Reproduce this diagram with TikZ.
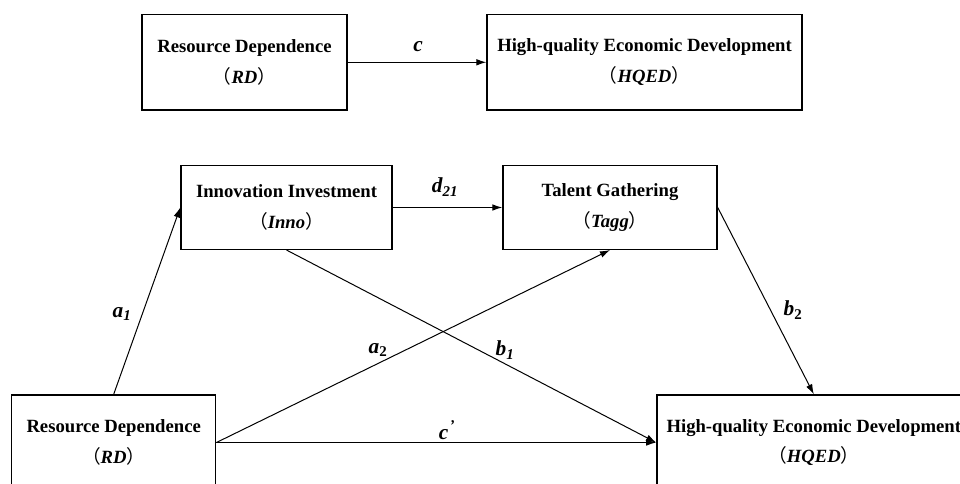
\documentclass[tikz,border=0pt]{standalone}
\usepackage{fontspec}
\setmainfont{Liberation Serif}
\newfontfamily\cjkfont{Noto Sans CJK SC}
\usetikzlibrary{arrows.meta}
\newcommand{\fparen}[1]{{\cjkfont\mdseries （}\textit{#1}{\cjkfont\mdseries ）}}
\begin{document}
\begin{tikzpicture}[x=0.75pt,y=-0.75pt,
  box/.style={draw, line width=1.1pt, rectangle, align=center, inner sep=0pt,
    font=\fontsize{14}{23}\selectfont\bfseries},
  conn/.style={line width=0.75pt, -{Latex[length=7.5pt,width=5pt]}},
  lbl/.style={font=\fontsize{16}{18}\selectfont\bfseries\itshape, inner sep=0pt}]
\useasboundingbox (0,0) rectangle (960,484);
\clip (0,0) rectangle (960,484);
% top model
\node[box, minimum width=153.75pt, minimum height=71.5pt] (rd1) at (244.5,62.3)
  {Resource Dependence\\\fparen{RD}};
\node[box, minimum width=236.25pt, minimum height=71.5pt] (hq1) at (644.5,62.3)
  {High-quality Economic Development\\\fparen{HQED}};
% mediation model
\node[box, minimum width=158.25pt, minimum height=62.7pt] (inno) at (286.5,207.5)
  {Innovation Investment\\\fparen{Inno}};
\node[box, minimum width=160.5pt, minimum height=62.7pt] (tagg) at (610,207.5)
  {Talent Gathering\\\fparen{Tagg}};
\node[box, minimum width=153pt, minimum height=71.25pt] (rd2) at (113.7,442.5)
  {Resource Dependence\\\fparen{RD}};
\node[box, minimum width=235.5pt, minimum height=71.25pt] (hq2) at (813.8,442.5)
  {High-quality Economic Development\\\fparen{HQED}};
% connectors
\draw[conn] (rd1.east) -- (hq1.west);
\draw[conn] (inno.east) -- (tagg.west);
\draw[conn] (rd2.north) -- (inno.west);
\draw[conn] (rd2.east) -- (tagg.south);
\draw[conn] (rd2.east) -- (hq2.west);
\draw[conn] (inno.south) -- (hq2.west);
\draw[conn] (tagg.east) -- (hq2.north);
% labels
\node[lbl] (lc) at (418,47) {c};
\node[lbl] (ld) at (445,187) {d\textsubscript{21}};
\node[lbl] (la1) at (122,314) {a\textsubscript{1}};
\node[lbl] (la2) at (378,350) {a\textsubscript{\upshape 2}};
\node[lbl] (lb1) at (505,350) {b\textsubscript{1}};
\node[lbl] (lb2) at (793,310) {b\textsubscript{\upshape 2}};
\node[lbl] (lcp) at (447,430) {c\textsuperscript{\kern1pt’}};
\end{tikzpicture}
\end{document}
